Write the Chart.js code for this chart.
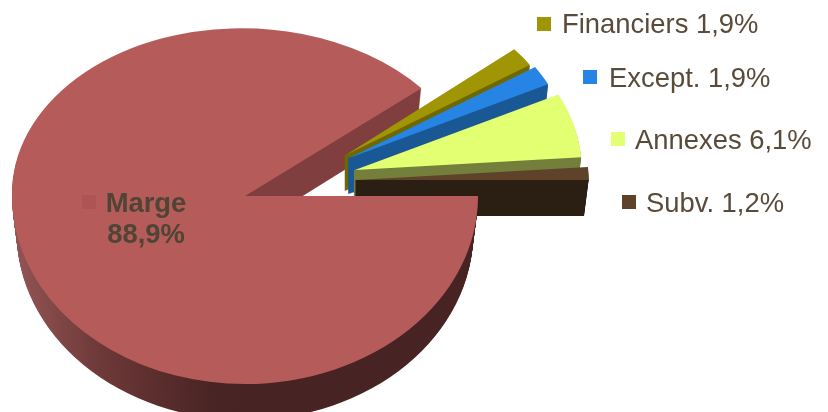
<!DOCTYPE html>
<html>
<head>
<meta charset="utf-8">
<title>Marge</title>
<script src="https://cdn.jsdelivr.net/npm/chart.js@4/dist/chart.umd.min.js"></script>
<style>
    html, body { margin: 0; padding: 0; background: #fff; }
    canvas { display: block; }
</style>
</head>
<body>
<canvas id="pie-chart" width="828" height="412"></canvas>
<script>
const categories = ["Marge", "Financiers", "Except.", "Annexes", "Subv."];
const shares = [88.9, 1.9, 1.9, 6.1, 1.2];

const faceColors = ["#b55c5b", "#9f9505", "#2684e5", "#e3ff72", "#5e4229"];
const wallColors = ["#803f3f", "#6f6800", "#195895", "#737f3a", "#2b1e12"];

// how far each slice is pulled out, and its vertical nudge
const explode = [0, 133, 126, 117, 112];
const lift = [0, 15, 6.6, -3.5, -12.8];

// key square x, key y, text x, baseline y
const legendPos = [null, [537, 17, 562, 33], [583, 70, 609, 87], [611, 132, 635, 149], [622, 195, 646, 212]];

const depth = 36;
const narrowing = 0.02;
const backTilt = 0.72;
const backSkew = 0.02;
const frontTilt = 0.807;
const sliceTilt = 0.75;
const focal = 2300;

function shareText(i) {
    return shares[i].toFixed(1).replace(".", ",") + "%";
}

// fake 3D: each slice gets its own squash, then a stack of darker copies under it
function sliceView(ctx, arc, i) {
    let mid = (arc.startAngle + arc.endAngle) / 2;
    let s = focal / (focal - arc.outerRadius * Math.sin(mid));
    ctx.translate(arc.x, arc.y + lift[i]);
    ctx.scale(s, s * sliceTilt);
    ctx.translate(explode[i] * Math.cos(mid), explode[i] * Math.sin(mid));
    ctx.translate(-arc.x, -arc.y);
}

function drawWall(ctx, arc, from, to, fill, view) {
    for (let d = depth; d >= 1; d--) {
        let narrow = 1 - narrowing * d / depth;
        ctx.save();
        ctx.translate(0, d);
        view();
        // narrow around the slice tip so the tip edge stays straight
        ctx.translate(arc.x, arc.y);
        ctx.scale(narrow, 1);
        ctx.translate(-arc.x, -arc.y);
        ctx.fillStyle = fill;
        ctx.beginPath();
        ctx.moveTo(arc.x, arc.y);
        ctx.arc(arc.x, arc.y, arc.outerRadius, from, to);
        ctx.closePath();
        ctx.fill();
        ctx.restore();
    }
}

// the stacked copies go streaky at a thin tip, so the cut side is filled as one piece
function drawCutSide(ctx, arc, fill, view) {
    ctx.save();
    view();
    let m = ctx.getTransform();
    ctx.restore();
    let tip = m.transformPoint(new DOMPoint(arc.x, arc.y));
    let end = m.transformPoint(new DOMPoint(
        arc.x + arc.outerRadius * Math.cos(arc.endAngle),
        arc.y + arc.outerRadius * Math.sin(arc.endAngle)
    ));
    ctx.save();
    ctx.fillStyle = fill;
    ctx.beginPath();
    ctx.moveTo(tip.x - 1, tip.y);
    ctx.lineTo(end.x, end.y);
    ctx.lineTo(tip.x + (end.x - tip.x) * (1 - narrowing), end.y + depth);
    ctx.lineTo(tip.x - 1, tip.y + depth);
    ctx.closePath();
    ctx.fill();
    ctx.restore();
}

function drawFace(ctx, arc, top, height, view) {
    ctx.save();
    ctx.beginPath();
    ctx.rect(0, top, ctx.canvas.width, height);
    ctx.clip();
    view();
    arc.draw(ctx);
    ctx.restore();
}

const pie3d = {
    id: "pie3d",
    beforeDatasetDraw(chart, args) {
        const ctx = chart.ctx;
        const arcs = args.meta.data;
        const big = arcs[0];
        const tiltAbout = function (tilt, skew) {
            return function () {
                ctx.translate(big.x, big.y);
                ctx.transform(1, 0, skew * tilt, tilt, 0, 0);
                ctx.translate(-big.x, -big.y);
            };
        };
        const backView = tiltAbout(backTilt, backSkew);
        const frontView = tiltAbout(frontTilt, 0);

        // back half of the big slice, with its cut face
        drawWall(ctx, big, Math.PI, big.endAngle, wallColors[0], backView);
        drawFace(ctx, big, 0, big.y, backView);

        for (let i = 1; i < arcs.length; i++) {
            let arc = arcs[i];
            let view = function () {
                sliceView(ctx, arc, i);
            };
            drawWall(ctx, arc, arc.startAngle, arc.endAngle, wallColors[i], view);
            drawCutSide(ctx, arc, wallColors[i], view);
            ctx.save();
            view();
            arc.draw(ctx);
            ctx.restore();
        }

        // front half goes last so it hides the bottom of the small slices
        let rim = ctx.createLinearGradient(big.x - big.outerRadius, 0, big.x, 0);
        rim.addColorStop(0, "#935454");
        rim.addColorStop(0.4, "#6c3737");
        rim.addColorStop(0.85, "#4a2424");
        rim.addColorStop(1, "#472323");
        drawWall(ctx, big, 0, Math.PI, rim, frontView);
        drawFace(ctx, big, big.y, ctx.canvas.height, frontView);
        return false;
    },
    afterDatasetsDraw(chart) {
        const ctx = chart.ctx;
        ctx.save();
        ctx.textBaseline = "alphabetic";

        ctx.fillStyle = "#ad5555";
        ctx.fillRect(82, 195, 14, 14);
        ctx.fillStyle = "#4f4435";
        ctx.font = "bold 27.4px 'Liberation Sans'";
        ctx.textAlign = "center";
        ctx.fillText(categories[0], 146, 212);
        ctx.fillText(shareText(0), 146, 243);

        ctx.font = "27.4px 'Liberation Sans'";
        ctx.textAlign = "left";
        for (let i = 1; i < categories.length; i++) {
            let p = legendPos[i];
            ctx.fillStyle = faceColors[i];
            ctx.fillRect(p[0], p[1], 14, 14);
            ctx.fillStyle = "#5a4a3a";
            ctx.fillText(categories[i] + " " + shareText(i), p[2], p[3]);
        }
        ctx.restore();
    }
};

new Chart(document.getElementById("pie-chart"), {
    type: "pie",
    data: {
        labels: categories,
        datasets: [
            {
                data: shares,
                backgroundColor: faceColors,
                borderWidth: 0
            }
        ]
    },
    options: {
        responsive: false,
        animation: false,
        rotation: 90,
        radius: 233,
        layout: { padding: { right: 338, bottom: 20 } },
        plugins: {
            legend: { display: false },
            tooltip: { enabled: false }
        }
    },
    plugins: [pie3d]
});
</script>
</body>
</html>
